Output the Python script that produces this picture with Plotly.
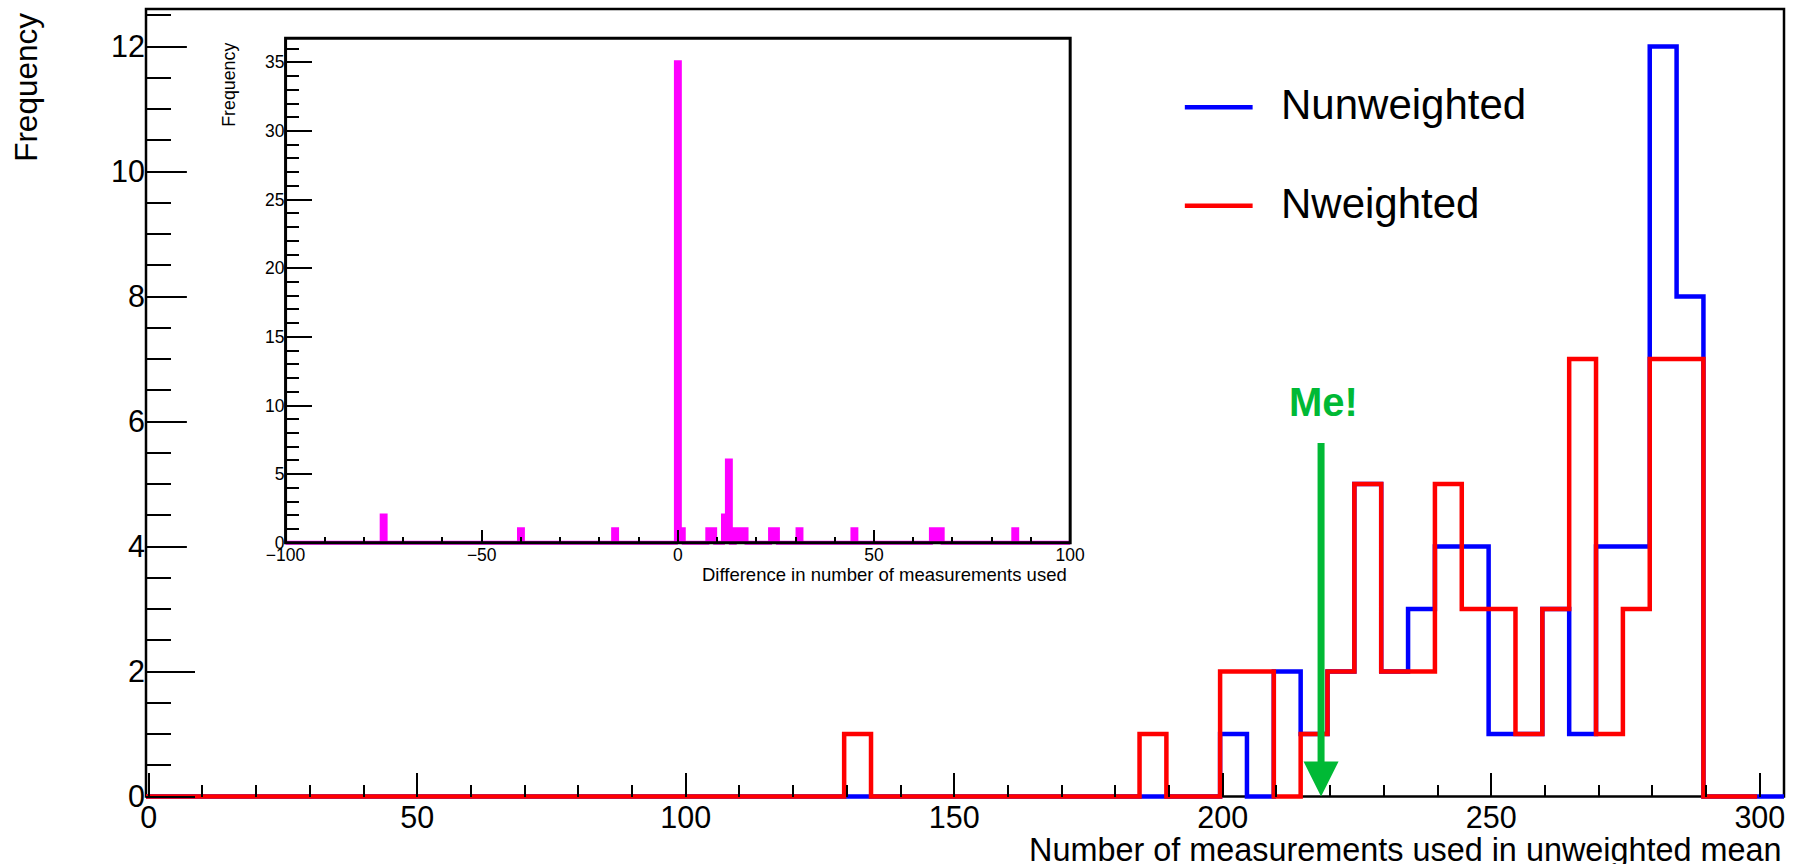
import numpy as np
import plotly.graph_objects as go

# ---------------- data ----------------
# Main histograms: 5-wide bins, first lower edge at -0.5
BIN_W = 5.0
X_START = -0.5
n_weighted = [0] * 26 + [1] + [0] * 10 + [
    1, 0, 0, 2, 2, 0, 1, 2, 5, 2, 2, 5, 3, 3, 1, 3, 7, 1, 3, 7, 7, 0, 0]
n_unweighted = [0] * 40 + [
    1, 0, 2, 1, 2, 5, 2, 3, 4, 4, 1, 1, 3, 1, 4, 4, 12, 8, 0, 0, 0]

# Inset: difference in number of measurements, unit bins centred on integers
diff_values = [-75, -40, -16, 0, 1, 8, 9, 12, 13, 15, 16, 17, 24, 25, 31, 45, 65, 66, 67, 86]
diff_counts = [2, 1, 1, 35, 1, 1, 1, 2, 6, 1, 1, 1, 1, 1, 1, 1, 1, 1, 1, 1]

series_names = ["Nunweighted", "Nweighted"]
x_title = "Number of measurements used in unweighted mean"
y_title = "Frequency"
inset_x_title = "Difference in number of measurements used"
inset_y_title = "Frequency"
marker_label = "Me!"
ME_X = 218.3          # position of the highlighted entry
ME_ARROW_TOP = 5.68

BLUE, RED, MAGENTA, GREEN = "#0000ff", "#ff0000", "#ff00ff", "#00b935"
FONT = "Liberation Sans, Arial, Helvetica, sans-serif"

# ---------------- geometry (pixels) ----------------
W, H = 1808, 864
PL, PR = 146.0, 1789.0            # main frame left / right
PT, Y0 = 9.0, 796.7               # main frame top / y = 0 line
PAD = 2.5                         # room below zero so the baseline is not clipped
PB = Y0 + PAD
Y_TOP = 12.6
y_lo = -PAD * Y_TOP / (Y0 - PT)

IL, IR, IT, IY0 = 286.0, 1073.0, 38.3, 543.0   # inset frame
IPAD = 2.5
I_TOP = 36.75
iy_lo = -IPAD * I_TOP / (IY0 - IT)


def fx(px):
    return (px - PL) / (PR - PL)


def fy(py):
    return (PB - py) / (PB - PT)


def step(start, width, counts):
    edges = start + width * np.arange(len(counts) + 1)
    return edges, list(counts) + [counts[-1]]


# build inset bin contents from the listed values
inset_centres = np.arange(-100, 101)
inset_counts = np.zeros(len(inset_centres))
for v, c in zip(diff_values, diff_counts):
    inset_counts[v + 100] = c

fig = go.Figure()

xb, yb = step(X_START, BIN_W, n_unweighted)
fig.add_trace(go.Scatter(x=xb, y=yb, mode="lines", name=series_names[0],
                         line=dict(shape="hv", color=BLUE, width=4.5),
                         hoverinfo="skip", showlegend=False))
xr, yr = step(X_START, BIN_W, n_weighted)
fig.add_trace(go.Scatter(x=xr, y=yr, mode="lines", name=series_names[1],
                         line=dict(shape="hv", color=RED, width=4.5),
                         hoverinfo="skip", showlegend=False))
xi, yi = step(-100.5, 1.0, inset_counts)
fig.add_trace(go.Scatter(x=xi, y=yi, mode="lines", xaxis="x2", yaxis="y2",
                         line=dict(shape="hv", color=MAGENTA, width=4),
                         fill="tozeroy", fillcolor=MAGENTA,
                         hoverinfo="skip", showlegend=False))

tick_common = dict(showline=False, zeroline=False, showgrid=False,
                   ticks="inside", tickcolor="black", tickwidth=2)

shapes = [
    # main frame
    dict(type="rect", xref="paper", yref="paper", x0=0, x1=1, y0=fy(Y0), y1=1,
         line=dict(color="black", width=2.5), layer="below"),
    # inset frame
    dict(type="rect", xref="paper", yref="paper", x0=fx(IL), x1=fx(IR),
         y0=fy(IY0), y1=fy(IT), line=dict(color="black", width=3), layer="above"),
    # inset pad edge hides the long main ticks
    dict(type="rect", xref="paper", yref="paper", x0=fx(187), x1=fx(200),
         y0=fy(600), y1=fy(20), fillcolor="white", line=dict(width=0), layer="above"),
    # legend keys
    dict(type="line", xref="paper", yref="paper", x0=fx(1188), x1=fx(1256),
         y0=fy(107.3), y1=fy(107.3), line=dict(color=BLUE, width=4.5)),
    dict(type="line", xref="paper", yref="paper", x0=fx(1188), x1=fx(1256),
         y0=fy(205.7), y1=fy(205.7), line=dict(color=RED, width=4.5)),
]

annotations = [
    dict(x=ME_X, y=0, ax=ME_X, ay=ME_ARROW_TOP, xref="x", yref="y", axref="x", ayref="y",
         text="", showarrow=True, arrowhead=2, arrowsize=1, arrowwidth=7,
         arrowcolor=GREEN, standoff=0),
    dict(x=ME_X + 0.4, y=6.31, xref="x", yref="y", text="<b>" + marker_label + "</b>",
         showarrow=False, xanchor="center", yanchor="middle",
         font=dict(family=FONT, size=40, color=GREEN)),
    dict(x=fx(26), y=fy(11), xref="paper", yref="paper", text=y_title, textangle=-90,
         showarrow=False, xanchor="center", yanchor="top",
         font=dict(family=FONT, size=31.5, color="black")),
    dict(x=fx(1789), y=fy(850), xref="paper", yref="paper", text=x_title,
         showarrow=False, xanchor="right", yanchor="middle",
         font=dict(family=FONT, size=32.4, color="black")),
    dict(x=fx(229), y=fy(41), xref="paper", yref="paper", text=inset_y_title, textangle=-90,
         showarrow=False, xanchor="center", yanchor="top",
         font=dict(family=FONT, size=17.8, color="black")),
    dict(x=fx(1072), y=fy(575), xref="paper", yref="paper", text=inset_x_title,
         showarrow=False, xanchor="right", yanchor="middle",
         font=dict(family=FONT, size=18.5, color="black")),
    dict(x=fx(1282), y=fy(105), xref="paper", yref="paper", text=series_names[0],
         showarrow=False, xanchor="left", yanchor="middle",
         font=dict(family=FONT, size=42, color="black")),
    dict(x=fx(1282), y=fy(203.5), xref="paper", yref="paper", text=series_names[1],
         showarrow=False, xanchor="left", yanchor="middle",
         font=dict(family=FONT, size=42, color="black")),
]

fig.update_layout(
    width=W, height=H, autosize=False,
    margin=dict(l=PL, r=W - PR, t=PT, b=H - PB, pad=0),
    paper_bgcolor="white", plot_bgcolor="rgba(0,0,0,0)",
    font=dict(family=FONT, color="black"),
    showlegend=False,
    xaxis=dict(domain=[0, 1], range=[X_START, X_START + BIN_W * len(n_unweighted)],
               anchor="free", position=fy(Y0), dtick=50, tick0=0, ticklen=23.6,
               tickfont=dict(size=30.5),
               minor=dict(ticks="inside", dtick=10, tick0=0, ticklen=11.8, tickwidth=2,
                          tickcolor="black", showgrid=False),
               **tick_common),
    yaxis=dict(domain=[0, 1], range=[y_lo, Y_TOP], anchor="x", dtick=2, tick0=0,
               ticklen=49.3, tickfont=dict(size=30.5),
               minor=dict(ticks="inside", dtick=0.5, tick0=0, ticklen=24.6, tickwidth=2,
                          tickcolor="black", showgrid=False),
               **tick_common),
    xaxis2=dict(domain=[fx(IL), fx(IR)], range=[-100, 100], anchor="free",
                position=fy(IY0), dtick=50, tick0=0, ticklen=12.5,
                tickfont=dict(size=17.5),
                minor=dict(ticks="inside", dtick=10, tick0=0, ticklen=6, tickwidth=2,
                           tickcolor="black", showgrid=False),
                **tick_common),
    yaxis2=dict(domain=[fy(IY0 + IPAD), fy(IT)], range=[iy_lo, I_TOP], anchor="x2",
                dtick=5, tick0=0, ticklen=26, tickfont=dict(size=17.5),
                minor=dict(ticks="inside", dtick=1, tick0=0, ticklen=13, tickwidth=2,
                           tickcolor="black", showgrid=False),
                **tick_common),
    shapes=shapes,
    annotations=annotations,
)

fig.write_html("out.html")
